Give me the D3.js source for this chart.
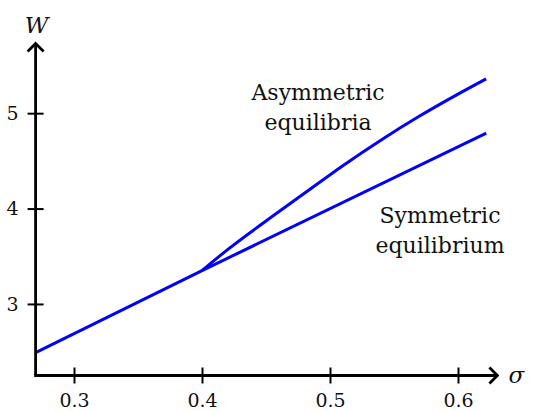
<!DOCTYPE html>
<html>
<head>
<meta charset="utf-8">
<script src="https://cdn.jsdelivr.net/npm/d3@7"></script>
<style>
  body { margin: 0; background: #fff; }
  svg text { font-family: "DejaVu Serif", serif; fill: #111; }
</style>
</head>
<body>
<svg id="chart" width="540" height="411"></svg>
<script>
// tick values
const xTicks = [0.3, 0.4, 0.5, 0.6];
const yTicks = [3, 4, 5];

// symmetric equilibrium (straight branch)
const symSigma = [0.27, 0.4, 0.622];
const symW = [2.49, 3.35, 4.79];

// asymmetric equilibria (branch out of the kink at 0.4)
const asymSigma = [0.4, 0.42, 0.45, 0.48, 0.51, 0.54, 0.57, 0.6, 0.622];
const asymW = [3.35, 3.57, 3.87, 4.16, 4.45, 4.72, 4.97, 5.20, 5.36];

const serif = '"DejaVu Serif", serif';
const svg = d3.select('#chart');

const x = d3.scaleLinear().domain([0.27, 0.63]).range([35.6, 496.4]);
const y = d3.scaleLinear().domain([2.25, 5.72]).range([375.5, 44.5]);

const x0 = x(0.27);
const y0 = y(2.25);

// lines
const line = d3.line()
    .x(d => x(d[0]))
    .y(d => y(d[1]))
    .curve(d3.curveMonotoneX);

[d3.zip(symSigma, symW), d3.zip(asymSigma, asymW)].forEach(pts => {
    svg.append('path')
        .datum(pts)
        .attr('d', line)
        .attr('fill', 'none')
        .attr('stroke', '#0000ff')
        .attr('stroke-width', 3);
});

// x axis
const xAxis = svg.append('g')
    .attr('transform', `translate(0,${y0})`)
    .attr('font-family', serif)
    .call(d3.axisBottom(x).tickValues(xTicks).tickSize(8).tickPadding(10).tickFormat(d3.format('.1f')));
xAxis.select('.domain').remove();
xAxis.selectAll('.tick line').attr('y1', -8).attr('stroke', '#000').attr('stroke-width', 2);
xAxis.selectAll('.tick text').attr('font-size', 19).attr('fill', '#111');

// y axis
const yAxis = svg.append('g')
    .attr('transform', `translate(${x0},0)`)
    .attr('font-family', serif)
    .call(d3.axisLeft(y).tickValues(yTicks).tickSize(8).tickPadding(9).tickFormat(d3.format('d')));
yAxis.select('.domain').remove();
yAxis.selectAll('.tick line').attr('x1', 8).attr('stroke', '#000').attr('stroke-width', 2);
yAxis.selectAll('.tick text').attr('font-size', 19).attr('fill', '#111');

// axis lines with open arrowheads
const xEnd = x(0.63);
const yEnd = y(5.72);

svg.append('line')
    .attr('x1', x0 - 1.4).attr('y1', y0)
    .attr('x2', xEnd).attr('y2', y0)
    .attr('stroke', '#000').attr('stroke-width', 2.8);
svg.append('line')
    .attr('x1', x0).attr('y1', y0)
    .attr('x2', x0).attr('y2', yEnd)
    .attr('stroke', '#000').attr('stroke-width', 2.8);

svg.append('path')
    .attr('d', `M${xEnd - 7},${y0 - 8}L${xEnd + 1},${y0}L${xEnd - 7},${y0 + 8}`)
    .attr('fill', 'none').attr('stroke', '#000').attr('stroke-width', 2.8);
svg.append('path')
    .attr('d', `M${x0 - 8},${yEnd + 7}L${x0},${yEnd - 1}L${x0 + 8},${yEnd + 7}`)
    .attr('fill', 'none').attr('stroke', '#000').attr('stroke-width', 2.8);

// axis titles
svg.append('text')
    .attr('x', x0 + 1).attr('y', 33)
    .attr('text-anchor', 'middle')
    .attr('font-size', 23)
    .attr('font-style', 'italic')
    .text('W');

svg.append('text')
    .attr('x', xEnd + 12).attr('y', y0 + 7)
    .attr('font-size', 23)
    .attr('font-style', 'italic')
    .text('σ');

// annotations
function label(cx, baseline, lines) {
    const t = svg.append('text')
        .attr('x', cx).attr('y', baseline)
        .attr('text-anchor', 'middle')
        .attr('font-size', 22);
    lines.forEach((s, i) => {
        t.append('tspan')
            .attr('x', cx)
            .attr('dy', i === 0 ? 0 : 30)
            .text(s);
    });
}

label(318, 100, ['Asymmetric', 'equilibria']);
label(440, 223, ['Symmetric', 'equilibrium']);
</script>
</body>
</html>
